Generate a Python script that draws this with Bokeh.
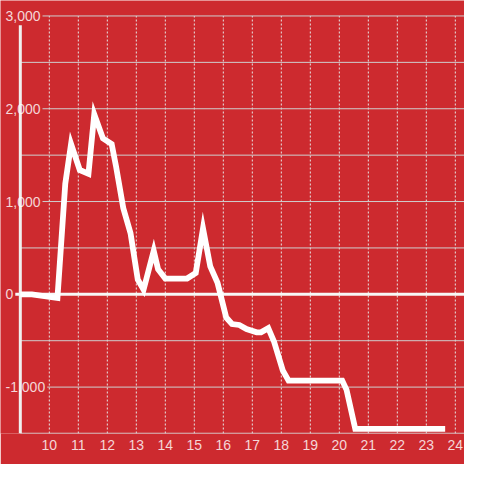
from bokeh.plotting import figure
from bokeh.models import Range1d, FixedTicker
from bokeh.core.properties import value
from bokeh.embed import file_html
from bokeh.resources import INLINE

# ---- data ----
hours = [9.0, 9.4, 10.28, 10.55, 10.75, 11.05, 11.35, 11.55, 11.85, 12.15, 12.3,
         12.55, 12.8, 13.05, 13.25, 13.6, 13.75, 14.0, 14.75, 15.05, 15.3, 15.55,
         15.8, 16.1, 16.3, 16.55, 16.8, 17.15, 17.3, 17.55, 17.75, 18.05, 18.25,
         20.1, 20.25, 20.55, 23.65]
values = [0, 0, -40, 1190, 1620, 1340, 1300, 1940, 1680, 1620, 1380,
          930, 660, 160, 50, 470, 270, 170, 170, 230, 710, 300,
          125, -250, -320, -330, -375, -410, -410, -365, -510, -820, -930,
          -930, -1030, -1450, -1450]

x_ticks = list(range(10, 25))
y_label_ticks = [-1000, 0, 1000, 2000, 3000]
y_minor_ticks = [-500, 500, 1500, 2500]
y_labels = ["-1,000", "0", "1,000", "2,000", "3,000"]

RED = "#cd2a2f"
W = H = 464
FONT = "Liberation Sans"
FS = 14

x_start, x_end = 8.3167, 24.3167
y_start, y_end = -1500, 3166.7
axis_x = 9.0
axis_top = 2900

p = figure(width=W, height=H, x_range=Range1d(x_start, x_end),
           y_range=Range1d(y_start, y_end),
           min_border_left=0, min_border_right=0, min_border_top=0,
           min_border_bottom=31, output_backend="svg", toolbar_location=None,
           background_fill_color=RED, border_fill_color=RED,
           outline_line_color=None)
p.grid.visible = False
p.yaxis.visible = False

px_per_x = W / (x_end - x_start)

# vertical dashed gridlines
p.segment(x0=x_ticks, x1=x_ticks, y0=[y_start] * len(x_ticks),
          y1=[max(y_label_ticks)] * len(x_ticks),
          line_color="#e6e6e6", line_width=1, line_dash="2 2")

# minor horizontal gridlines (from axis)
p.segment(x0=[axis_x] * len(y_minor_ticks), x1=[x_end] * len(y_minor_ticks),
          y0=y_minor_ticks, y1=y_minor_ticks, line_color="#cfcfcf", line_width=1)


def text_width(s):
    w = 0
    for c in s:
        if c.isdigit():
            w += 0.556
        elif c == ",":
            w += 0.278
        elif c == "-":
            w += 0.333
    return w * FS


label_left = 5
starts = [x_start + (label_left + text_width(t) + 2) / px_per_x for t in y_labels]
for t, yv, x0 in zip(y_labels, y_label_ticks, starts):
    if yv == 0:
        p.segment(x0=[x0], x1=[x_end], y0=[yv], y1=[yv], line_color="#f7f7f7", line_width=3)
    else:
        p.segment(x0=[x0], x1=[x_end], y0=[yv], y1=[yv], line_color="#cfcfcf", line_width=1)

# bottom axis line
p.segment(x0=[axis_x], x1=[x_end], y0=[y_start], y1=[y_start], line_color="#cfcfcf", line_width=1.5)
# left axis line
p.segment(x0=[axis_x], x1=[axis_x], y0=[y_start], y1=[axis_top], line_color="#f0f0f0", line_width=3)

# y labels
p.text(x=[x_start] * len(y_labels), y=y_label_ticks, text=y_labels, x_offset=label_left,
       text_align="left", text_baseline="middle", text_font=value(FONT),
       text_font_size=f"{FS}px", text_color="white", text_alpha=0.82)

# data line
p.line(hours, values, line_color="white", line_width=5.8, line_join="miter")

# x axis
xa = p.xaxis[0]
xa.ticker = FixedTicker(ticks=x_ticks)
xa.axis_line_color = None
xa.major_tick_line_color = None
xa.minor_tick_line_color = None
xa.major_tick_out = 0
xa.major_tick_in = 0
xa.major_label_standoff = 6
xa.major_label_text_font = FONT
xa.major_label_text_font_size = f"{FS}px"
xa.major_label_text_color = "white"
xa.major_label_text_alpha = 0.82

open("out.html", "w").write(file_html(p, INLINE))
